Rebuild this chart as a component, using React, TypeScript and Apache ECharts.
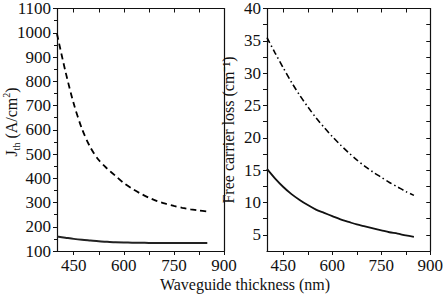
import React, { useEffect, useRef } from "react";
import * as echarts from "echarts";

const thickness = [400, 425, 450, 475, 500, 525, 550, 575, 600, 625, 650, 675, 700, 725, 750, 775, 800, 825, 850];
const jthDashed = [995, 842, 708, 603, 527, 475, 440, 410, 380, 357, 337, 320, 306, 295, 286, 278, 272, 267, 263];
const jthSolid = [160, 155, 150, 146, 143, 140, 138, 136, 135, 134.5, 134, 133.5, 133, 133, 133, 133, 133, 133, 133];
const lossDashDot = [35.5, 33.1, 30.8, 28.6, 26.6, 24.8, 23.1, 21.6, 20.2, 18.9, 17.7, 16.6, 15.6, 14.7, 13.9, 13.1, 12.4, 11.7, 11.1];
const lossSolid = [15.2, 13.7, 12.4, 11.3, 10.4, 9.6, 8.9, 8.4, 7.9, 7.4, 7.0, 6.6, 6.3, 6.0, 5.7, 5.4, 5.2, 4.9, 4.7];

const xTicks = [450, 525, 600, 675, 750, 825, 900];
const xLabels = [450, 600, 750, 900];
const lossTicks = [5, 7.5, 10, 12.5, 15, 17.5, 20, 22.5, 25, 27.5, 30, 32.5, 35, 37.5, 40];
const lossLabels = [5, 10, 15, 20, 25, 30, 35, 40];

const FONT = "'Liberation Serif', 'Times New Roman', Times, serif";
const INK = "#111";

const pairs = (ys: number[]) => thickness.map((x, i) => [x, ys[i]]);

export default function App() {
  const ref = useRef<HTMLDivElement>(null);
  useEffect(() => {
    if (!ref.current) return;
    const chart = echarts.init(ref.current, undefined, { renderer: "svg" });
    const axisLine = { show: true, lineStyle: { color: INK, width: 1.2 } };
    const labelStyle = {
      color: INK,
      fontFamily: FONT,
      fontSize: 17,
      formatter: (v: number) => String(v),
    };
    const bottomX = (gridIndex: number) => ({
      type: "value",
      gridIndex,
      min: 400,
      max: 900,
      position: "bottom",
      axisLine: { ...axisLine, onZero: false },
      axisTick: { show: true, inside: false, length: 4, customValues: xTicks, lineStyle: { color: INK } },
      axisLabel: { ...labelStyle, margin: 6, customValues: xLabels },
      splitLine: { show: false },
    });
    const topX = (gridIndex: number) => ({
      type: "value",
      gridIndex,
      min: 400,
      max: 900,
      position: "top",
      axisLine: { ...axisLine, onZero: false },
      axisTick: { show: true, inside: true, length: 4, customValues: xTicks, lineStyle: { color: INK } },
      axisLabel: { show: false },
      splitLine: { show: false },
    });
    const nameRich = {
      m: { fontFamily: FONT, fontSize: 16, lineHeight: 20, verticalAlign: "middle", fill: INK },
      s: { fontFamily: FONT, fontSize: 10, lineHeight: 10, verticalAlign: "bottom", fill: INK },
      p: { fontFamily: FONT, fontSize: 10, lineHeight: 10, verticalAlign: "top", fill: INK },
    };
    const option: any = {
      animation: false,
      backgroundColor: "#fff",
      textStyle: { fontFamily: FONT },
      grid: [
        { left: 57, top: 7, width: 167, height: 244 },
        { left: 267, top: 7, width: 167, height: 244 },
      ],
      xAxis: [bottomX(0), topX(0), bottomX(1), topX(1)],
      yAxis: [
        {
          type: "value",
          gridIndex: 0,
          min: 100,
          max: 1100,
          interval: 100,
          position: "left",
          axisLine: { ...axisLine, onZero: false },
          axisTick: { show: true, inside: false, length: 4, lineStyle: { color: INK } },
          minorTick: { show: true, splitNumber: 2, length: 3, lineStyle: { color: INK } },
          axisLabel: { ...labelStyle, margin: 6 },
          splitLine: { show: false },
          minorSplitLine: { show: false },
        },
        {
          type: "value",
          gridIndex: 0,
          min: 100,
          max: 1100,
          interval: 100,
          position: "right",
          axisLine: { ...axisLine, onZero: false },
          axisTick: { show: false },
          axisLabel: { show: false },
          splitLine: { show: false },
        },
        {
          type: "value",
          gridIndex: 1,
          min: 2.5,
          max: 40,
          position: "left",
          axisLine: { ...axisLine, onZero: false },
          axisTick: { show: true, inside: false, length: 4, customValues: lossTicks, lineStyle: { color: INK } },
          axisLabel: { ...labelStyle, margin: 6, customValues: lossLabels },
          splitLine: { show: false },
        },
        {
          type: "value",
          gridIndex: 1,
          min: 2.5,
          max: 40,
          position: "right",
          axisLine: { ...axisLine, onZero: false },
          axisTick: { show: true, inside: true, length: 4, customValues: lossTicks, lineStyle: { color: INK } },
          axisLabel: { show: false },
          splitLine: { show: false },
        },
      ],
      series: [
        {
          type: "line",
          xAxisIndex: 0,
          yAxisIndex: 0,
          data: pairs(jthDashed),
          showSymbol: false,
          smooth: 0.3,
          lineStyle: { color: "#000", width: 1.8, type: [6, 4] },
        },
        {
          type: "line",
          xAxisIndex: 0,
          yAxisIndex: 0,
          data: pairs(jthSolid),
          showSymbol: false,
          smooth: 0.3,
          lineStyle: { color: "#222", width: 2 },
        },
        {
          type: "line",
          xAxisIndex: 2,
          yAxisIndex: 2,
          data: pairs(lossDashDot),
          showSymbol: false,
          smooth: 0.3,
          lineStyle: { color: "#000", width: 1.6, type: [6, 3, 1.5, 3] },
        },
        {
          type: "line",
          xAxisIndex: 2,
          yAxisIndex: 2,
          data: pairs(lossSolid),
          showSymbol: false,
          smooth: 0.3,
          lineStyle: { color: "#111", width: 1.8 },
        },
      ],
      graphic: [
        {
          type: "text",
          x: 11,
          y: 122,
          rotation: Math.PI / 2,
          style: {
            text: "{m|J}{s|th}{m| (A/cm}{p|2}{m|)}",
            align: "center",
            verticalAlign: "middle",
            fill: INK,
            fontFamily: FONT,
            rich: nameRich,
          },
        },
        {
          type: "text",
          x: 228,
          y: 130,
          rotation: Math.PI / 2,
          style: {
            text: "Free carrier loss (cm⁻¹)",
            align: "center",
            verticalAlign: "middle",
            fill: INK,
            fontFamily: FONT,
            fontSize: 16,
          },
        },
        {
          type: "text",
          x: 245,
          y: 284,
          style: {
            text: "Waveguide thickness (nm)",
            align: "center",
            verticalAlign: "middle",
            fill: INK,
            fontFamily: FONT,
            fontSize: 16,
          },
        },
      ],
    };
    chart.setOption(option);
    return () => chart.dispose();
  }, []);
  return (
    <div
      ref={ref}
      style={{ position: "fixed", left: 0, top: 0, width: 446, height: 294, background: "#fff" }}
    />
  );
}
